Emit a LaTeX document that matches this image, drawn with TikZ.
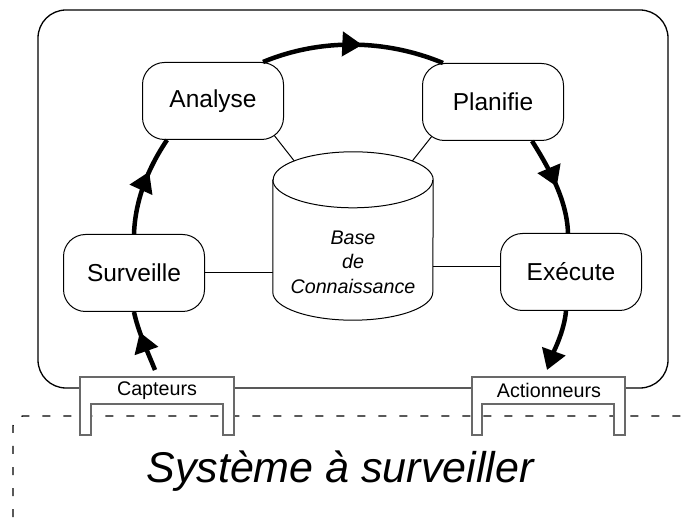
\documentclass[tikz,border=0pt]{standalone}
\usepackage{fontspec}
\setmainfont{Liberation Sans}
\definecolor{gris_bord}{RGB}{105,105,105}
\usetikzlibrary{arrows.meta, decorations.markings, backgrounds}

\begin{document}
\begin{tikzpicture}[x=1pt, y=1pt,
    etape/.style={draw, fill=white, rounded corners=22pt, line width=1pt,
      minimum width=141pt, minimum height=77pt, font=\fontsize{24.5}{29}\selectfont},
    boucle/.style={line width=4.5pt},
    fleche/.style={postaction={decorate, decoration={markings,
      mark=at position #1 with {\arrow{Triangle[length=20pt,width=24pt]}}}}},
    interface/.style={draw=gris_bord, fill=white, line width=1.3pt},
    petit/.style={font=\fontsize{19.7}{24.5}\selectfont}]
  \useasboundingbox (0,0) rectangle (685,522);
  \clip (0,0) rectangle (685,522);
  % Système à surveiller
  \draw[line width=1.3pt, dash pattern=on 8pt off 13pt, rounded corners=10pt]
    (13,-5) rectangle (760,106);
  \node[font=\fontsize{43}{50}\selectfont\itshape, anchor=base] (systeme) at (340,40)
    {Système à surveiller};
  % Boucle autonome
  \draw[line width=1.3pt, rounded corners=28pt] (38,134) rectangle (668,512);
  % Capteurs et actionneurs
  \draw[interface] (80,87) -- (80,145) -- (234,145) -- (234,87) -- (223,87)
    -- (223,118) -- (91,118) -- (91,87) -- cycle;
  \draw[interface] (472,87) -- (472,145) -- (625,145) -- (625,87) -- (614,87)
    -- (614,118) -- (482,118) -- (482,87) -- cycle;
  \node[petit] (capteurs) at (157,131.5) {Capteurs};
  \node[petit] (actionneurs) at (549,131.5) {Actionneurs};
  % Etapes
  \node[etape] (surveille) at (134,249) {Surveille};
  \node[etape] (analyse) at (213,421) {Analyse};
  \node[etape] (planifie) at (493,420) {Planifie};
  \node[etape] (execute) at (571,250) {Exécute};
  % Base de connaissance (cylindre)
  \node[minimum width=160pt, minimum height=168pt, inner sep=0pt] (base) at (353,286) {};
  \draw[fill=white, line width=1pt] ([yshift=-28pt]base.north west) -- ([yshift=28pt]base.south west)
    arc[start angle=180, end angle=360, x radius=80, y radius=28]
    -- ([yshift=-28pt]base.north east)
    arc[start angle=0, end angle=180, x radius=80, y radius=28] -- cycle;
  \draw[line width=1pt] ([yshift=-28pt]base.north west)
    arc[start angle=180, end angle=360, x radius=80, y radius=28];
  \node[petit, font=\fontsize{19.7}{24.5}\selectfont\itshape, align=center]
    (basetexte) at (353,260) {Base\\de\\Connaissance};
  % Liens avec la base
  \begin{scope}[on background layer]
    \draw[line width=1pt] (surveille) -- (surveille -| base);
    \draw[line width=1pt] ([yshift=5pt]execute.center) -- ([yshift=5pt]execute.center -| base);
    \draw[line width=1pt] ([xshift=-14pt,yshift=10pt]analyse.south east) -- (base.center);
    \draw[line width=1pt] ([xshift=14pt,yshift=10pt]planifie.south west) -- (base.center);
  \end{scope}
  % Cycle
  \coordinate (entree) at (155,152);
  \coordinate (sortie) at (547,152);
  \draw[boucle, fleche=0.66] (entree) to[out=112, in=-78, distance=20pt] (surveille.south);
  \draw[boucle, fleche=0.64] (surveille.north) to[out=88, in=236, distance=34pt]
    ([xshift=-46pt]analyse.south);
  \draw[boucle, fleche=0.55] ([xshift=50pt]analyse.north) to[out=22.6, in=157.4, distance=62pt]
    ([xshift=-50pt]planifie.north);
  \draw[boucle, fleche=0.52] ([xshift=39pt]planifie.south) to[out=-58, in=92, distance=33pt]
    ([xshift=-3pt]execute.north);
  \draw[boucle, -{Triangle[length=20pt,width=24pt]}] ([xshift=-5pt]execute.south)
    to[out=-95, in=70, distance=20pt] (sortie);
\end{tikzpicture}
\end{document}
